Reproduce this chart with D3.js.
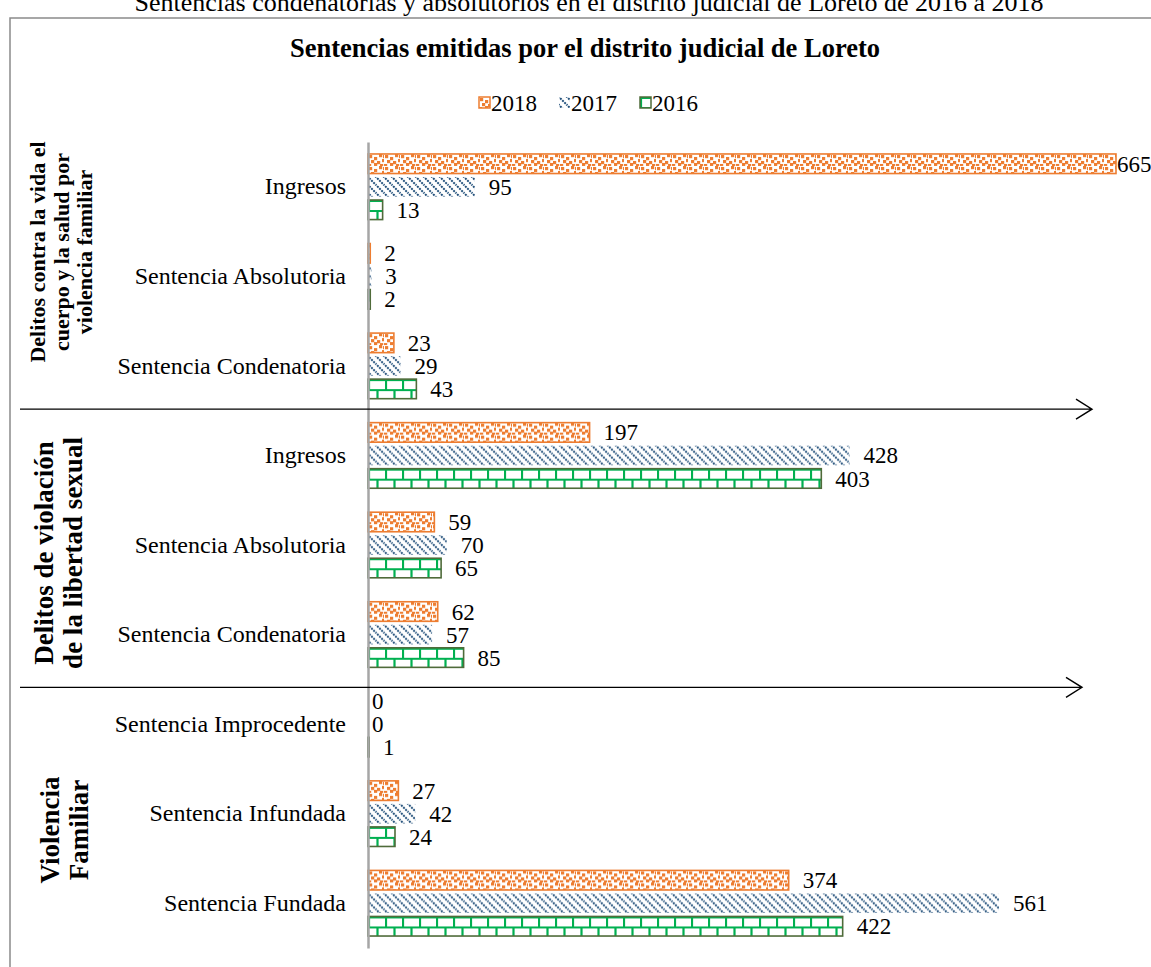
<!DOCTYPE html>
<html>
<head>
<meta charset="utf-8">
<script src="https://cdn.jsdelivr.net/npm/d3@7"></script>
<style>
  body { margin: 0; background: #fff; }
  svg { display: block; font-family: "Liberation Serif", "Times New Roman", serif; }
</style>
</head>
<body>
<svg id="chart" width="1151" height="967"></svg>
<script>
// categories (top to bottom) and the section each belongs to
const categories = [
  "Ingresos", "Sentencia Absolutoria", "Sentencia Condenatoria",
  "Ingresos", "Sentencia Absolutoria", "Sentencia Condenatoria",
  "Sentencia Improcedente", "Sentencia Infundada", "Sentencia Fundada"
];
const sections = [
  ["Delitos contra la vida el", "cuerpo y la salud por", "violencia familiar"],
  ["Delitos de violación", "de la libertad sexual"],
  ["Violencia", "Familiar"]
];

const years = ["2018", "2017", "2016"];
const values2018 = [665, 2, 23, 197, 59, 62, 0, 27, 374];
const values2017 = [95, 3, 29, 428, 70, 57, 0, 42, 561];
const values2016 = [13, 2, 43, 403, 65, 85, 1, 24, 422];

const pageTitle = "Sentencias condenatorias y absolutorios en el distrito judicial de Loreto de 2016 a 2018";
const chartTitle = "Sentencias emitidas por el distrito judicial de Loreto";

const series = { "2018": values2018, "2017": values2017, "2016": values2016 };
const rows = categories.map((c, i) => ({
  key: String(i), label: c,
  bars: years.map(y => ({ year: y, value: series[y][i] }))
}));

const svg = d3.select("#chart");
const defs = svg.append("defs");

// --- fill patterns (Excel-like) ---
const orange = "#ED7D31", blueDark = "#1F4E79", green = "#00B050", greenBorder = "#4F6B3A";

const conf = defs.append("pattern").attr("id", "p2018")
  .attr("patternUnits", "userSpaceOnUse").attr("width", 16).attr("height", 12);
conf.append("rect").attr("width", 16).attr("height", 12).attr("fill", "#fff");
[[1,1],[6,3],[11,0],[3,6],[9,7],[14,5],[0,10],[6,9],[12,10],[15,1]].forEach(([x, y]) =>
  conf.append("rect").attr("x", x).attr("y", y).attr("width", 3.2).attr("height", 3.2).attr("fill", orange));

const diag = defs.append("pattern").attr("id", "p2017")
  .attr("patternUnits", "userSpaceOnUse").attr("width", 8).attr("height", 8);
diag.append("rect").attr("width", 8).attr("height", 8).attr("fill", "#fff");
diag.append("path").attr("d", "M-1,-1L9,9M-1,7L1,9M7,-1L9,1")
  .attr("stroke", blueDark).attr("stroke-width", 2).attr("stroke-dasharray", "2,1");

const brick = defs.append("pattern").attr("id", "p2016")
  .attr("patternUnits", "userSpaceOnUse").attr("width", 17).attr("height", 20);
brick.append("rect").attr("width", 17).attr("height", 20).attr("fill", "#fff");
brick.append("path")
  .attr("d", "M0,1H17M0,11H17M1,0V11M9.5,11V20")
  .attr("stroke", green).attr("stroke-width", 2.2);

const fillOf = { "2018": "url(#p2018)", "2017": "url(#p2017)", "2016": "url(#p2016)" };
const strokeOf = { "2018": orange, "2017": "none", "2016": greenBorder };

// --- frame and titles ---
svg.append("path").attr("d", "M10,967V18H1151")
  .attr("fill", "none").attr("stroke", "#8a8a8a").attr("stroke-width", 1.5);

svg.append("text").attr("x", 589).attr("y", 11).attr("text-anchor", "middle")
  .style("font-size", "26px").text(pageTitle);

svg.append("text").attr("x", 585).attr("y", 57).attr("text-anchor", "middle")
  .style("font-size", "26.5px").style("font-weight", "bold").text(chartTitle);

// --- scales ---
const x = d3.scaleLinear().domain([0, 665]).range([368, 1116]);
const y0 = d3.scaleBand().domain(rows.map(d => d.key)).range([142, 948]);
const y1 = d3.scaleBand().domain(years).range([0, y0.bandwidth()])
  .paddingInner(0.15).paddingOuter(0.52);

// --- legend ---
const legend = svg.append("g").attr("transform", "translate(479,97)");
const legendX = [0, 80, 161];
years.forEach((yr, i) => {
  const g = legend.append("g").attr("transform", `translate(${legendX[i]},0)`);
  g.append("rect").attr("width", 11).attr("height", 11)
    .attr("fill", fillOf[yr]).attr("stroke", yr === "2017" ? "none" : strokeOf[yr]).attr("stroke-width", 1.5);
  g.append("text").attr("x", 12).attr("y", 6).attr("dy", "0.35em")
    .style("font-size", "23px").text(yr);
});

// --- bars ---
const chart = svg.append("g");
const rowG = chart.selectAll("g.row").data(rows).join("g")
  .attr("class", "row")
  .attr("transform", d => `translate(0,${y0(d.key)})`);

rowG.selectAll("g.bar").data(d => d.bars.filter(b => b.value > 0)).join("g")
  .attr("class", "bar")
  .attr("transform", d => `translate(${x(0)},${y1(d.year)})`)
  .append("rect")
  .attr("width", d => x(d.value) - x(0))
  .attr("height", y1.bandwidth())
  .attr("fill", d => fillOf[d.year])
  .attr("stroke", d => strokeOf[d.year])
  .attr("stroke-width", 1.6);

rowG.selectAll("text.val").data(d => d.bars).join("text")
  .attr("class", "val")
  .attr("x", d => Math.min(x(d.value) + (d.value === 0 ? 4 : 14), 1117))
  .attr("y", d => y1(d.year) + y1.bandwidth() / 2)
  .attr("dy", "0.35em")
  .style("font-size", "23px")
  .text(d => d.value);

// --- category axis ---
const axis = chart.append("g").attr("transform", `translate(${x(0)},0)`)
  .call(d3.axisLeft(y0).tickSize(0).tickPadding(22).tickSizeOuter(0)
    .tickFormat(k => categories[+k]));
axis.select(".domain").attr("stroke", "#a6a6a6").attr("stroke-width", 2.5);
axis.selectAll("text").style("font-size", "24px").attr("fill", "#000")
  .style("font-family", "'Liberation Serif', serif");

// --- section separators (arrows) ---
const sepAfter = [2, 5];
const sepNudge = [-1.5, 8];
const sepEnd = [1092, 1082];
sepAfter.forEach((idx, i) => {
  const yy = y0(String(idx)) + y0.step() + sepNudge[i];
  const xe = sepEnd[i];
  svg.append("path")
    .attr("d", `M20,${yy}H${xe}M${xe - 16},${yy - 10}L${xe},${yy}L${xe - 16},${yy + 10}`)
    .attr("fill", "none").attr("stroke", "#000").attr("stroke-width", 1.4);
});

// --- section labels (rotated) ---
const secLayout = [
  { cx: 61, cy: 252, size: 22, gap: 23.5 },
  { cx: 58, cy: 553, size: 27, gap: 28.5 },
  { cx: 64, cy: 830, size: 27, gap: 29.5 }
];
sections.forEach((lines, s) => {
  const L = secLayout[s];
  const g = svg.append("g").attr("transform", `translate(${L.cx},${L.cy}) rotate(-90)`);
  lines.forEach((t, j) => {
    g.append("text").attr("x", 0).attr("y", (j - (lines.length - 1) / 2) * L.gap)
      .attr("dy", "0.35em").attr("text-anchor", "middle")
      .style("font-size", L.size + "px").style("font-weight", "bold").text(t);
  });
});
</script>
</body>
</html>
